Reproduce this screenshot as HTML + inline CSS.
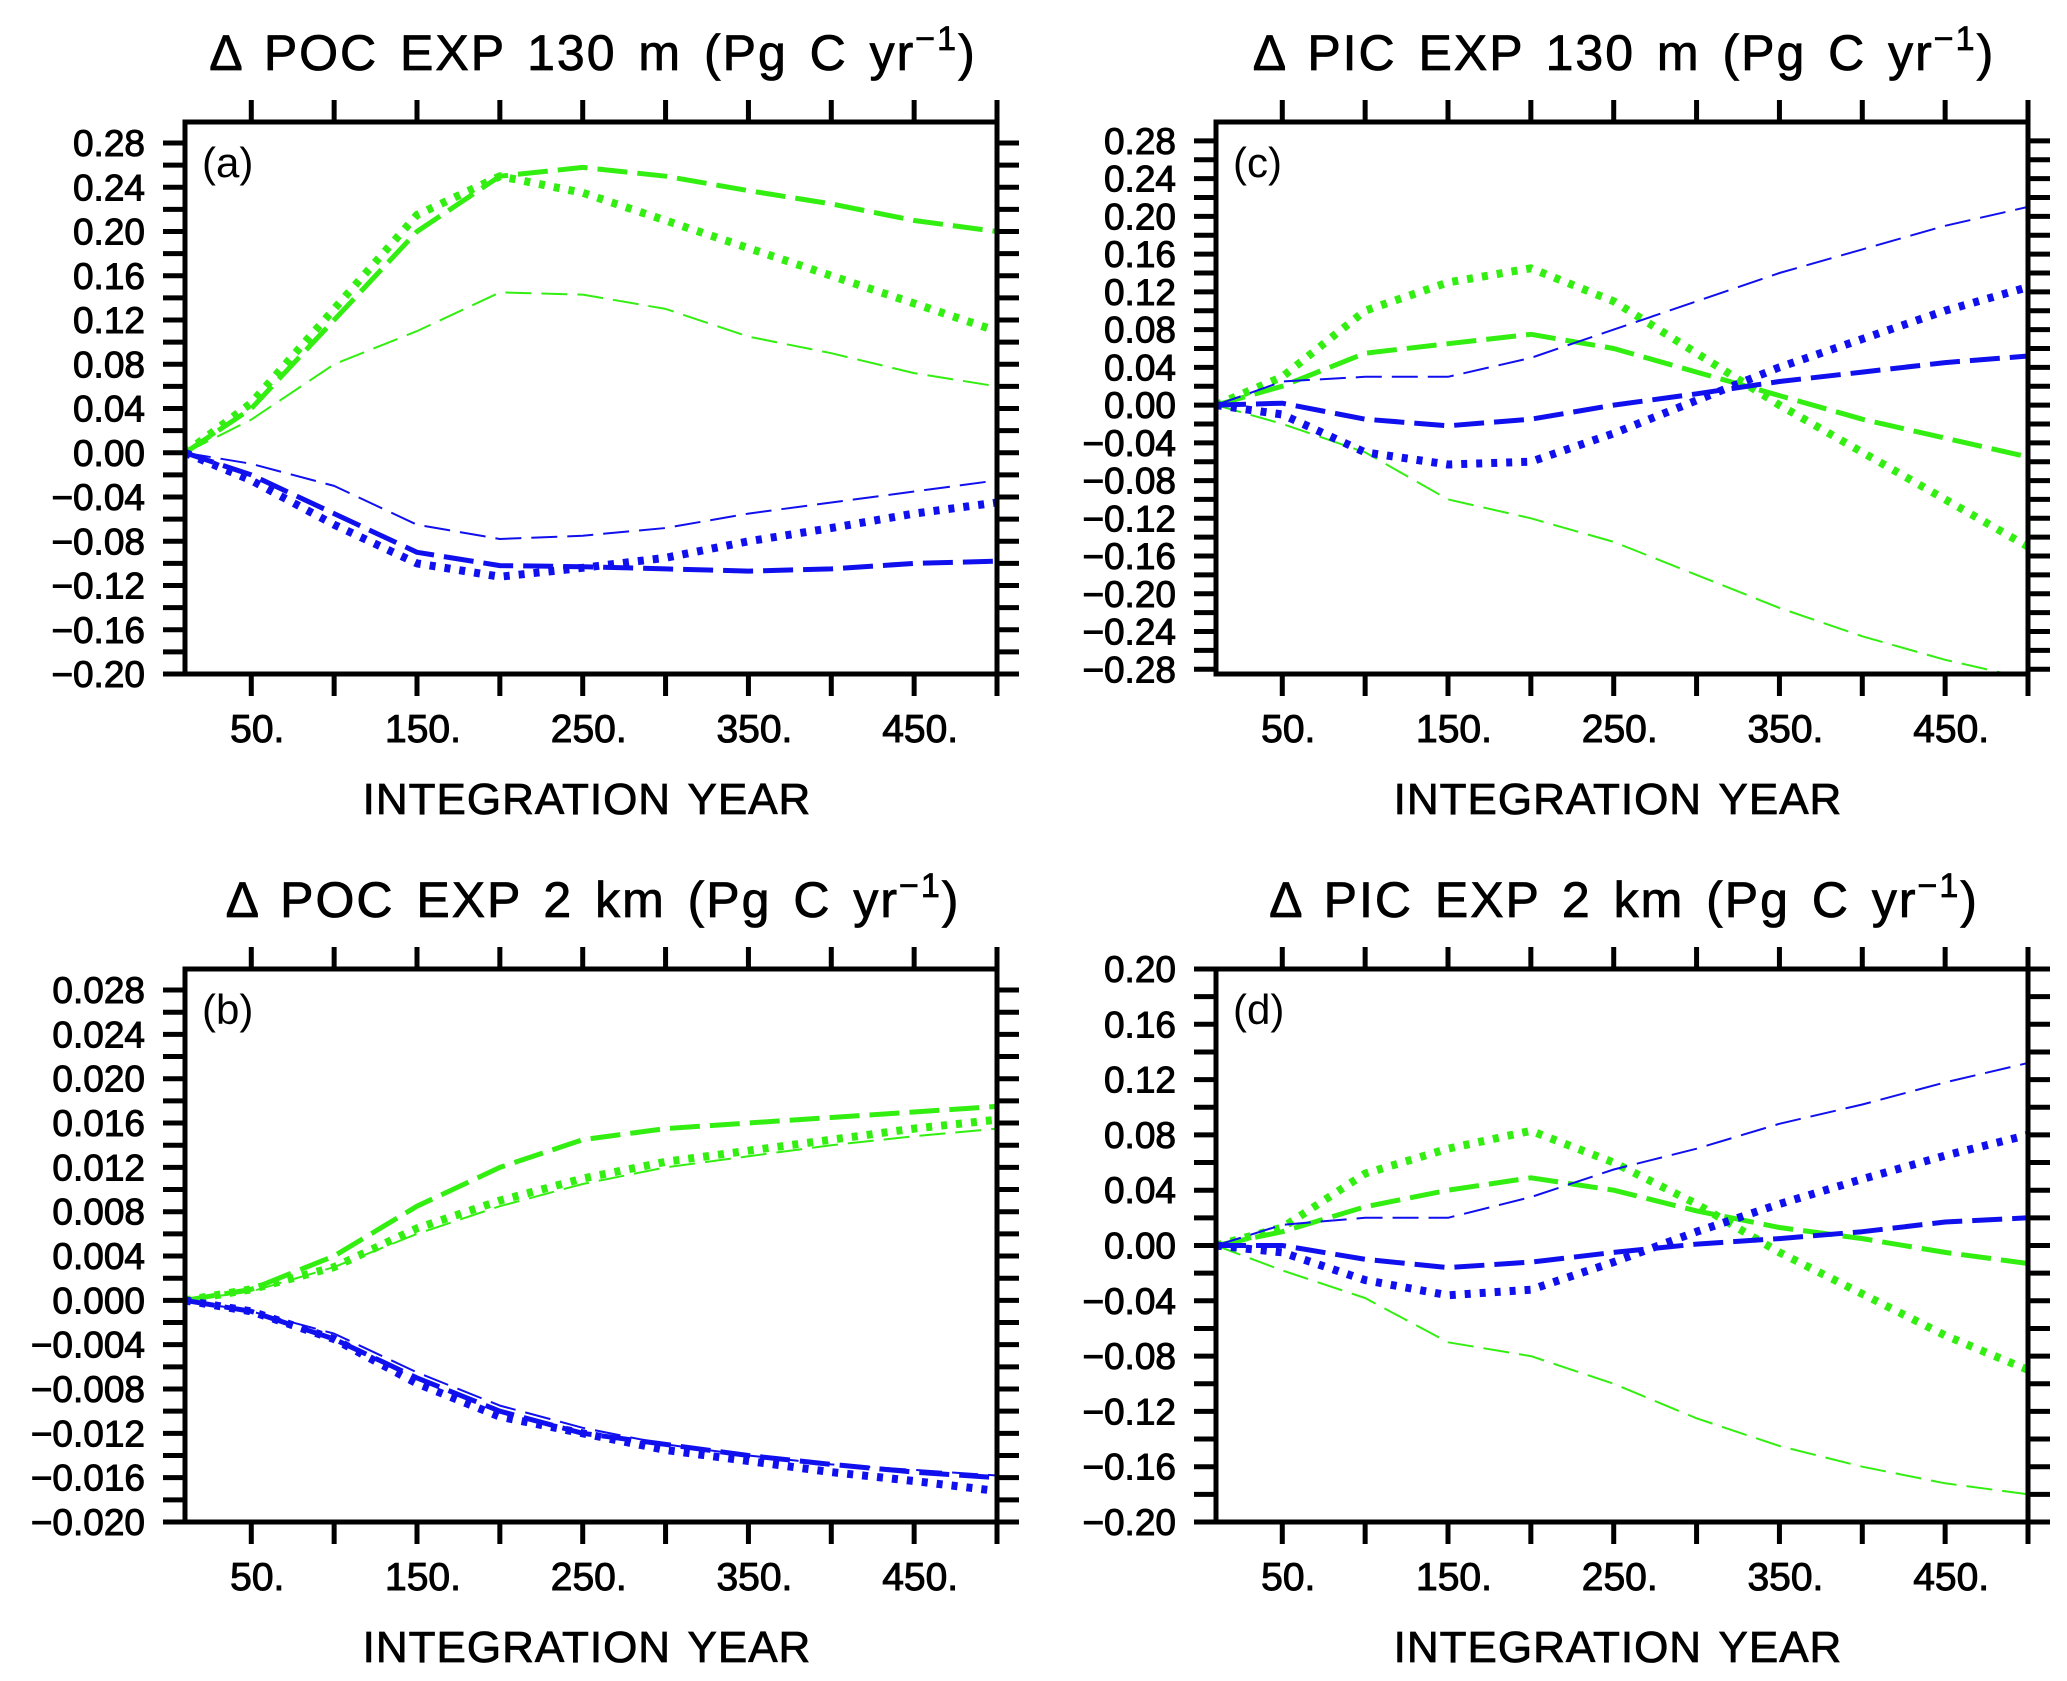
<!DOCTYPE html>
<html><head><meta charset="utf-8">
<style>
html,body{margin:0;padding:0;background:#fff;}
svg{display:block;font-family:"Liberation Sans",sans-serif;}
</style></head>
<body>
<svg id="fig" width="2067" height="1681" viewBox="0 0 2067 1681" xmlns="http://www.w3.org/2000/svg"></svg>
<script>
// ---- data ----
const years = [10,50,100,150,200,250,300,350,400,450,500];
// panel a: POC 130 m
const aGreenThick = [0,0.04,0.12,0.20,0.25,0.258,0.25,0.237,0.225,0.21,0.20];
const aGreenDot   = [0,0.045,0.13,0.215,0.25,0.235,0.21,0.185,0.16,0.135,0.11];
const aGreenThin  = [0,0.03,0.08,0.11,0.145,0.143,0.13,0.105,0.09,0.072,0.06];
const aBlueThin   = [0,-0.01,-0.03,-0.065,-0.078,-0.075,-0.068,-0.055,-0.045,-0.035,-0.025];
const aBlueThick  = [0,-0.02,-0.055,-0.09,-0.102,-0.103,-0.105,-0.107,-0.105,-0.1,-0.098];
const aBlueDot    = [0,-0.025,-0.065,-0.1,-0.112,-0.104,-0.095,-0.08,-0.068,-0.055,-0.045];
// panel b: POC 2 km
const bGreenThick = [0,0.001,0.004,0.0085,0.012,0.0145,0.0155,0.016,0.0165,0.017,0.0175];
const bGreenDot   = [0,0.001,0.003,0.0065,0.009,0.011,0.0125,0.0135,0.0145,0.0155,0.0163];
const bGreenThin  = [0,0.0008,0.003,0.006,0.0085,0.0105,0.012,0.013,0.014,0.0148,0.0155];
const bBlueThin   = [0,-0.001,-0.003,-0.0065,-0.0095,-0.0115,-0.013,-0.014,-0.0148,-0.0153,-0.0158];
const bBlueThick  = [0,-0.001,-0.0035,-0.007,-0.01,-0.012,-0.013,-0.014,-0.0148,-0.0155,-0.016];
const bBlueDot    = [0,-0.001,-0.0035,-0.0075,-0.0105,-0.012,-0.0135,-0.0145,-0.0155,-0.0163,-0.0172];
// panel c: PIC 130 m
const cBlueThin   = [0,0.025,0.03,0.03,0.05,0.08,0.11,0.14,0.165,0.19,0.21];
const cBlueThick  = [0,0.002,-0.015,-0.022,-0.015,0,0.012,0.025,0.035,0.045,0.052];
const cBlueDot    = [0,-0.01,-0.05,-0.063,-0.06,-0.03,0.005,0.04,0.07,0.1,0.125];
const cGreenThick = [0,0.02,0.055,0.065,0.075,0.06,0.035,0.01,-0.015,-0.035,-0.055];
const cGreenDot   = [0,0.03,0.1,0.13,0.145,0.11,0.055,0.0,-0.05,-0.1,-0.15];
const cGreenThin  = [0,-0.02,-0.05,-0.1,-0.12,-0.145,-0.18,-0.215,-0.245,-0.27,-0.29];
// panel d: PIC 2 km
const dBlueThin   = [0,0.015,0.02,0.02,0.035,0.055,0.07,0.088,0.102,0.118,0.132];
const dBlueThick  = [0,0,-0.01,-0.016,-0.012,-0.005,0.001,0.005,0.01,0.017,0.02];
const dBlueDot    = [0,-0.005,-0.025,-0.036,-0.032,-0.012,0.01,0.03,0.048,0.065,0.08];
const dGreenThick = [0,0.01,0.028,0.04,0.049,0.04,0.025,0.013,0.005,-0.005,-0.013];
const dGreenDot   = [0,0.013,0.052,0.07,0.083,0.06,0.03,-0.005,-0.035,-0.065,-0.09];
const dGreenThin  = [0,-0.018,-0.038,-0.07,-0.08,-0.1,-0.125,-0.145,-0.16,-0.172,-0.18];
const xTickLabels = ["50.","150.","250.","350.","450."];
const aYTicks = ["0.28","0.24","0.20","0.16","0.12","0.08","0.04","0.00","-0.04","-0.08","-0.12","-0.16","-0.20"];
const bYTicks = ["0.028","0.024","0.020","0.016","0.012","0.008","0.004","0.000","-0.004","-0.008","-0.012","-0.016","-0.020"];
const cYTicks = ["0.28","0.24","0.20","0.16","0.12","0.08","0.04","0.00","-0.04","-0.08","-0.12","-0.16","-0.20","-0.24","-0.28"];
const dYTicks = ["0.20","0.16","0.12","0.08","0.04","0.00","-0.04","-0.08","-0.12","-0.16","-0.20"];

const NS="http://www.w3.org/2000/svg";
const svg=document.getElementById('fig');
const GREEN="#33ee11", BLUE="#1010ee";
function mk(tag,attrs,parent){const e=document.createElementNS(NS,tag);for(const k in attrs)e.setAttribute(k,attrs[k]);(parent||svg).appendChild(e);return e;}

function panel(p){
  const g=mk('g',{});
  
  
  const sx=v=>p.x0+(v-10)/(500-10)*(p.x1-p.x0);
  const sy=v=>p.y1-(v-p.ymin)/(p.ymax-p.ymin)*(p.y1-p.y0);
  // title
  const t=mk('text',{x:(p.x0+p.x1)/2+2,y:p.y0-52,'font-size':50,'text-anchor':'middle','letter-spacing':2,'word-spacing':6,stroke:'#000','stroke-width':0.8},g);
  
  
  t.innerHTML=p.title+'<tspan dy="-20" font-size="34">−1</tspan><tspan dy="20">)</tspan>';
  // x ticks
  for(let v=50;v<=500;v+=50){
    const x=sx(v);
    const tk=mk('path',{d:`M${x},${p.y0}v-22M${x},${p.y1}v22`,stroke:'#000','stroke-width':5},g);
    
    
  }
  xTickLabels.forEach((lab,i)=>{
    const tl=mk('text',{x:sx(50+100*i)+6,y:p.y1+68,'font-size':39,'text-anchor':'middle',stroke:'#000','stroke-width':1},g);
    
    
    tl.textContent=lab;
  });
  // y ticks
  const step=p.step;
  for(let v=p.firstTick;v>=p.ymin-1e-9;v-=step/2){
    const y=sy(v);
    const tk=mk('path',{d:`M${p.x0},${y}h-22M${p.x1},${y}h22`,stroke:'#000','stroke-width':5},g);
    
    
  }
  p.yLabels.forEach((lab,i)=>{
    const tl=mk('text',{x:p.x0-40,y:sy(p.firstTick-i*step)+13,'font-size':37,'text-anchor':'end',stroke:'#000','stroke-width':1},g);
    
    
    tl.textContent=lab.replace('-','−');
  });
  // x title
  const xt=mk('text',{x:(p.x0+p.x1)/2-4,y:p.y1+140,'font-size':44,'text-anchor':'middle','letter-spacing':1,'word-spacing':4,stroke:'#000','stroke-width':0.8},g);
  
  
  xt.textContent='INTEGRATION YEAR';
  // clip
  const cp=mk('clipPath',{id:'clip'+p.id},g);
  mk('rect',{x:p.x0,y:p.y0,width:p.x1-p.x0,height:p.y1-p.y0},cp);
  const lg=mk('g',{'clip-path':`url(#clip${p.id})`},g);
  p.series.forEach(s=>{
    const d=s.vals.map((v,i)=>(i?'L':'M')+sx(years[i]).toFixed(1)+','+sy(v).toFixed(1)).join('');
    let st;
    if(s.style==='thin') st={'stroke-width':2,'stroke-dasharray':'26 10'};
    else if(s.style==='thick') st={'stroke-width':5,'stroke-dasharray':'30 10'};
    else st={'stroke-width':8,'stroke-dasharray':'6 9'};
    const pl=mk('path',Object.assign({d:d,fill:'none',stroke:s.color,'stroke-linejoin':'round'},st),lg);
    
    
  });
  // frame
  const fr=mk('rect',{x:p.x0,y:p.y0,width:p.x1-p.x0,height:p.y1-p.y0,fill:'none',stroke:'#000','stroke-width':5},g);
  
  
  const pl=mk('text',{x:p.x0+17,y:p.y0+55,'font-size':42},g);
  
  
  pl.textContent=p.label;
}

panel({id:'a',x0:185,x1:997,y0:122,y1:674,ymin:-0.2,ymax:0.299,step:0.04,firstTick:0.28,yLabels:aYTicks,
  title:'Δ POC EXP 130 m (Pg C yr',label:'(a)',series:[
  {name:'green-thin-line',color:GREEN,style:'thin',vals:aGreenThin},
  {name:'green-thick-dash',color:GREEN,style:'thick',vals:aGreenThick},
  {name:'green-dotted',color:GREEN,style:'dot',vals:aGreenDot},
  {name:'blue-thin-line',color:BLUE,style:'thin',vals:aBlueThin},
  {name:'blue-thick-dash',color:BLUE,style:'thick',vals:aBlueThick},
  {name:'blue-dotted',color:BLUE,style:'dot',vals:aBlueDot}]});
panel({id:'b',x0:185,x1:997,y0:969,y1:1522,ymin:-0.02,ymax:0.0299,step:0.004,firstTick:0.028,yLabels:bYTicks,
  title:'Δ POC EXP 2 km (Pg C yr',label:'(b)',series:[
  {name:'green-thin-line',color:GREEN,style:'thin',vals:bGreenThin},
  {name:'green-thick-dash',color:GREEN,style:'thick',vals:bGreenThick},
  {name:'green-dotted',color:GREEN,style:'dot',vals:bGreenDot},
  {name:'blue-thin-line',color:BLUE,style:'thin',vals:bBlueThin},
  {name:'blue-thick-dash',color:BLUE,style:'thick',vals:bBlueThick},
  {name:'blue-dotted',color:BLUE,style:'dot',vals:bBlueDot}]});
panel({id:'c',x0:1216,x1:2028,y0:122,y1:674,ymin:-0.285,ymax:0.30,step:0.04,firstTick:0.28,yLabels:cYTicks,
  title:'Δ PIC EXP 130 m (Pg C yr',label:'(c)',series:[
  {name:'green-thin-line',color:GREEN,style:'thin',vals:cGreenThin},
  {name:'green-thick-dash',color:GREEN,style:'thick',vals:cGreenThick},
  {name:'green-dotted',color:GREEN,style:'dot',vals:cGreenDot},
  {name:'blue-thin-line',color:BLUE,style:'thin',vals:cBlueThin},
  {name:'blue-thick-dash',color:BLUE,style:'thick',vals:cBlueThick},
  {name:'blue-dotted',color:BLUE,style:'dot',vals:cBlueDot}]});
panel({id:'d',x0:1216,x1:2028,y0:969,y1:1522,ymin:-0.2,ymax:0.2,step:0.04,firstTick:0.2,yLabels:dYTicks,
  title:'Δ PIC EXP 2 km (Pg C yr',label:'(d)',series:[
  {name:'green-thin-line',color:GREEN,style:'thin',vals:dGreenThin},
  {name:'green-thick-dash',color:GREEN,style:'thick',vals:dGreenThick},
  {name:'green-dotted',color:GREEN,style:'dot',vals:dGreenDot},
  {name:'blue-thin-line',color:BLUE,style:'thin',vals:dBlueThin},
  {name:'blue-thick-dash',color:BLUE,style:'thick',vals:dBlueThick},
  {name:'blue-dotted',color:BLUE,style:'dot',vals:dBlueDot}]});
</script>
</body></html>
